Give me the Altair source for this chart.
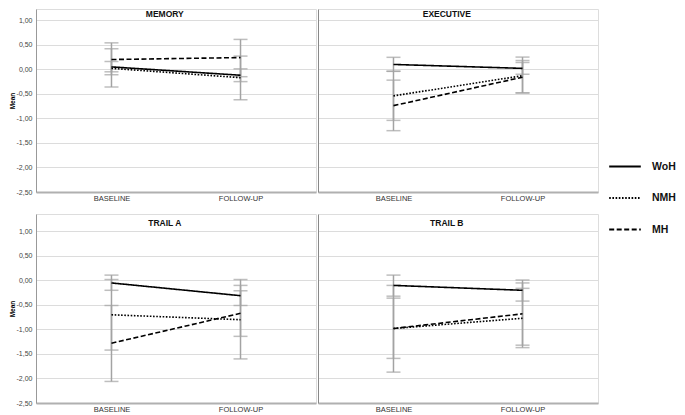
import altair as alt
import pandas as pd

phases = ["BASELINE", "FOLLOW-UP"]
groups = ["WoH", "NMH", "MH"]
panels = ["MEMORY", "EXECUTIVE", "TRAIL A", "TRAIL B"]

# mean values [baseline, follow-up]
mean_memory = {"WoH": [0.05, -0.12], "NMH": [0.02, -0.17], "MH": [0.20, 0.24]}
mean_executive = {"WoH": [0.10, 0.02], "NMH": [-0.54, -0.13], "MH": [-0.74, -0.16]}
mean_trail_a = {"WoH": [-0.05, -0.31], "NMH": [-0.70, -0.80], "MH": [-1.28, -0.67]}
mean_trail_b = {"WoH": [-0.10, -0.20], "NMH": [-0.98, -0.77], "MH": [-0.98, -0.68]}

# error bar lower limits [baseline, follow-up]
low_memory = {"WoH": [-0.05, -0.25], "NMH": [-0.36, -0.62], "MH": [-0.11, -0.15]}
low_executive = {"WoH": [-0.04, -0.10], "NMH": [-1.04, -0.48], "MH": [-1.25, -0.48]}
low_trail_a = {"WoH": [-0.20, -0.51], "NMH": [-1.42, -1.60], "MH": [-2.06, -1.14]}
low_trail_b = {"WoH": [-0.32, -0.42], "NMH": [-1.87, -1.37], "MH": [-1.59, -1.32]}

# error bar upper limits [baseline, follow-up]
high_memory = {"WoH": [0.16, 0.01], "NMH": [0.42, 0.27], "MH": [0.54, 0.61]}
high_executive = {"WoH": [0.245, 0.14], "NMH": [-0.04, 0.25], "MH": [-0.22, 0.18]}
high_trail_a = {"WoH": [0.11, -0.10], "NMH": [0.02, 0.02], "MH": [-0.51, -0.21]}
high_trail_b = {"WoH": [0.11, 0.01], "NMH": [-0.10, -0.16], "MH": [-0.36, -0.05]}

y_ticks = [-2.5, -2.0, -1.5, -1.0, -0.5, 0.0, 0.5, 1.0]

sources = {
    "MEMORY": (mean_memory, low_memory, high_memory),
    "EXECUTIVE": (mean_executive, low_executive, high_executive),
    "TRAIL A": (mean_trail_a, low_trail_a, high_trail_a),
    "TRAIL B": (mean_trail_b, low_trail_b, high_trail_b),
}
rows = []
for p in panels:
    m, lo, hi = sources[p]
    for g in groups:
        for i, ph in enumerate(phases):
            rows.append({"panel": p, "group": g, "phase": ph,
                         "mean": m[g][i], "lo": lo[g][i], "hi": hi[g][i]})
df = pd.DataFrame(rows)

W = 280
EB = "#a3a3a3"
FONT = "Liberation Sans"
label_expr = "(datum.value < 0 ? '-' : '') + replace(format(abs(datum.value), '.2f'), '.', ',')"

leg = alt.Legend(orient="none", legendX=572, legendY=140.5, title=None, padding=0,
                 symbolType="stroke", symbolSize=1000, symbolStrokeWidth=2,
                 symbolStrokeColor="black", labelFontSize=10.5, labelFontWeight="bold",
                 labelFont=FONT, labelColor="#111111", labelOffset=10, rowPadding=8.5)


def make_panel(name, h, ytop, left, ty):
    d = df[df.panel == name]
    base = alt.Chart(d)
    xs = alt.Scale(type="point", domain=phases, padding=0.585)
    xa = alt.Axis(title=None, labelAngle=0, ticks=False, domainColor="#b0b0b0",
                  domainWidth=2, labelFontSize=7.5, labelColor="#333333",
                  labelPadding=2, grid=False, labelFont=FONT)
    x = alt.X("phase:N", scale=xs, axis=xa)
    ys = alt.Scale(domain=[-2.5, ytop], nice=False, zero=False)
    if left:
        ya = alt.Axis(title="Mean", values=y_ticks, labelExpr=label_expr, ticks=False,
                      labelFontSize=7, labelColor="#444444", labelPadding=4,
                      titleFontSize=6.5, titleFontWeight="bold", titlePadding=1,
                      domainColor="#999999", gridColor="#dcdcdc", labelFont=FONT,
                      titleFont=FONT)
    else:
        ya = alt.Axis(title=None, values=y_ticks, labels=False, ticks=False,
                      domainColor="#888888", gridColor="#dcdcdc")
    bars = base.mark_rule(color=EB, strokeWidth=1.5).encode(
        x=x, y=alt.Y("lo:Q", scale=ys, axis=ya), y2="hi:Q")
    cap_lo = base.mark_tick(color=EB, thickness=1.5, size=14, orient="horizontal").encode(
        x=x, y=alt.Y("lo:Q", scale=ys, axis=ya))
    cap_hi = base.mark_tick(color=EB, thickness=1.5, size=14, orient="horizontal").encode(
        x=x, y=alt.Y("hi:Q", scale=ys, axis=ya))
    sd = alt.StrokeDash("group:N",
                        scale=alt.Scale(domain=groups, range=[[1, 0], [1.6, 1.6], [5, 2.5]]),
                        legend=leg)
    lines = base.mark_line(color="black", strokeWidth=1.6).encode(
        x=x, y=alt.Y("mean:Q", scale=ys, axis=ya), strokeDash=sd, detail="group:N")
    title = alt.Chart(pd.DataFrame({"t": [name]})).mark_text(
        fontWeight="bold", fontSize=8.5, font=FONT, baseline="middle", align="center",
        color="#111111").encode(text="t:N", x=alt.value(0.46 * W), y=alt.value(ty))
    return alt.layer(bars, cap_lo, cap_hi, lines, title).properties(width=W, height=h)


p1 = make_panel("MEMORY", 183, 1.23, True, 4.5)
p2 = make_panel("EXECUTIVE", 183, 1.23, False, 4.5)
p3 = make_panel("TRAIL A", 189, 1.357, True, 9)
p4 = make_panel("TRAIL B", 189, 1.357, False, 9)

chart = alt.vconcat(
    alt.hconcat(p1, p2, spacing=0),
    alt.hconcat(p3, p4, spacing=0),
    spacing=11,
).properties(padding=0).configure_view(stroke=None).configure(font=FONT)

chart.save("out.html", embed_options={"renderer": "svg", "actions": False})
